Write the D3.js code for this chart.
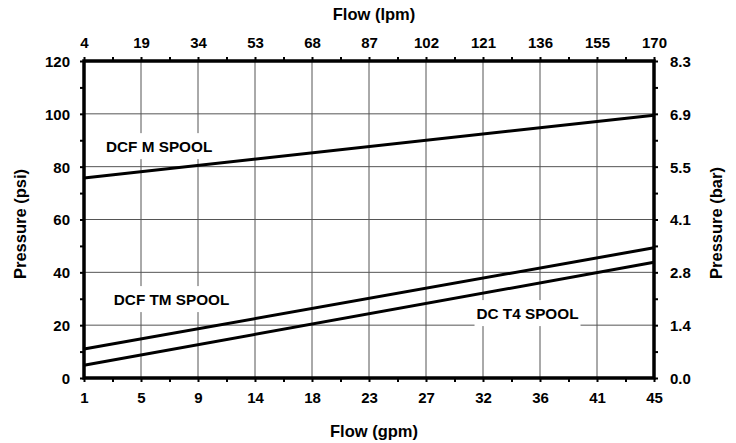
<!DOCTYPE html>
<html><head><meta charset="utf-8">
<script src="https://cdn.jsdelivr.net/npm/d3@7"></script>
<style>
body{margin:0;background:#fff}
text{font-family:"Liberation Sans",Arial,sans-serif;font-weight:bold;fill:#000}
</style>
</head><body>
<svg id="c" width="736" height="443"></svg>
<script>
// ---- data ----
const gpmTicks = [1, 5, 9, 14, 18, 23, 27, 32, 36, 41, 45];
const lpmTicks = [4, 19, 34, 53, 68, 87, 102, 121, 136, 155, 170];
const psiTicks = [0, 20, 40, 60, 80, 100, 120];
const barTicks = ["0.0", "1.4", "2.8", "4.1", "5.5", "6.9", "8.3"];
const flowGpm = [1, 45];
const dcfM = [75.7, 99.5];
const dcfTM = [11.0, 49.3];
const dcT4 = [4.8, 43.8];
const spoolNames = ["DCF M SPOOL", "DCF TM SPOOL", "DC T4 SPOOL"];
const labelGpm = [2.7, 3.3, 31.3];
const labelPsi = [85.5, 27.6, 22.3];

// ---- layout ----
const W = 736, H = 443;
const m = {l: 84, t: 61, r: 82, b: 65};
const pw = W - m.l - m.r, ph = H - m.t - m.b;
const svg = d3.select("#c");
const g = svg.append("g").attr("transform", `translate(${m.l},${m.t})`);

const x = d3.scaleLinear().domain([1, 45]).range([0, pw]);
const xi = d3.scaleLinear().domain([0, gpmTicks.length - 1]).range([0, pw]);
const y = d3.scaleLinear().domain([0, 120]).range([ph, 0]);
const yi = d3.scaleLinear().domain([0, psiTicks.length - 1]).range([ph, 0]);

// grid
g.append("g").selectAll("line").data(d3.range(1, gpmTicks.length - 1)).join("line")
  .attr("x1", d => xi(d)).attr("x2", d => xi(d)).attr("y1", 0).attr("y2", ph)
  .attr("stroke", "#555").attr("stroke-width", 1);
g.append("g").selectAll("line").data(psiTicks.slice(1, -1)).join("line")
  .attr("y1", d => y(d)).attr("y2", d => y(d)).attr("x1", 0).attr("x2", pw)
  .attr("stroke", "#555").attr("stroke-width", 1);

// series lines
const line = d3.line().x(d => x(d[0])).y(d => y(d[1]));
[dcfM, dcfTM, dcT4].forEach(s => {
  g.append("path").datum(flowGpm.map((f, i) => [f, s[i]]))
    .attr("d", line).attr("fill", "none").attr("stroke", "#000").attr("stroke-width", 3);
});

// spool labels with white boxes
spoolNames.forEach((name, i) => {
  const lg = g.append("g");
  const t = lg.append("text").attr("x", x(labelGpm[i])).attr("y", y(labelPsi[i]))
    .attr("font-size", 15.3).text(name);
  const bb = t.node().getBBox();
  lg.insert("rect", "text").attr("x", bb.x - 2).attr("y", bb.y - 5)
    .attr("width", bb.width + 4).attr("height", bb.height + 9).attr("fill", "#fff");
});

// frame
g.append("rect").attr("x", 0).attr("y", 0).attr("width", pw).attr("height", ph)
  .attr("fill", "none").attr("stroke", "#000").attr("stroke-width", 3.5);

// axes
function style(sel) {
  sel.select(".domain").remove();
  sel.selectAll(".tick line").attr("stroke", "#000").attr("stroke-width", 2);
  sel.selectAll("text").attr("font-size", 15).attr("font-family", null);
  return sel;
}
const minorX = d3.range(0.5, gpmTicks.length - 1, 1);
const minorY = d3.range(0.5, psiTicks.length - 1, 1);

const axB = g.append("g").attr("transform", `translate(0,${ph})`)
  .call(d3.axisBottom(xi).tickValues(d3.range(gpmTicks.length)).tickFormat(i => gpmTicks[i]).tickSize(4));
style(axB).selectAll("text").attr("y", 25).attr("dy", null);
g.append("g").attr("transform", `translate(0,${ph})`)
  .call(d3.axisBottom(xi).tickValues(minorX).tickFormat("").tickSize(4)).call(style);

const axT = g.append("g").call(d3.axisTop(xi).tickValues(d3.range(lpmTicks.length)).tickFormat(i => lpmTicks[i]).tickSize(4));
style(axT).selectAll("text").attr("y", -13).attr("dy", null);
g.append("g").call(d3.axisTop(xi).tickValues(minorX).tickFormat("").tickSize(4)).call(style);

const axL = g.append("g").call(d3.axisLeft(yi).tickValues(d3.range(psiTicks.length)).tickFormat(i => psiTicks[i]).tickSize(4));
style(axL).selectAll("text").attr("x", -14).attr("dy", "0.36em");
g.append("g").call(d3.axisLeft(yi).tickValues(minorY).tickFormat("").tickSize(4)).call(style);

const axR = g.append("g").attr("transform", `translate(${pw},0)`)
  .call(d3.axisRight(yi).tickValues(d3.range(barTicks.length)).tickFormat(i => barTicks[i]).tickSize(4));
style(axR).selectAll("text").attr("x", 16).attr("dy", "0.36em");
g.append("g").attr("transform", `translate(${pw},0)`)
  .call(d3.axisRight(yi).tickValues(minorY).tickFormat("").tickSize(4)).call(style);

// titles
svg.append("text").attr("x", 374).attr("y", 20).attr("text-anchor", "middle")
  .attr("font-size", 16.5).text("Flow (lpm)");
svg.append("text").attr("x", 374).attr("y", 437).attr("text-anchor", "middle")
  .attr("font-size", 16.5).text("Flow (gpm)");
svg.append("text").attr("transform", `translate(26,224) rotate(-90)`)
  .attr("text-anchor", "middle").attr("font-size", 16.5).text("Pressure (psi)");
svg.append("text").attr("transform", `translate(722,223) rotate(-90)`)
  .attr("text-anchor", "middle").attr("font-size", 16.5).text("Pressure (bar)");
</script>
</body></html>
